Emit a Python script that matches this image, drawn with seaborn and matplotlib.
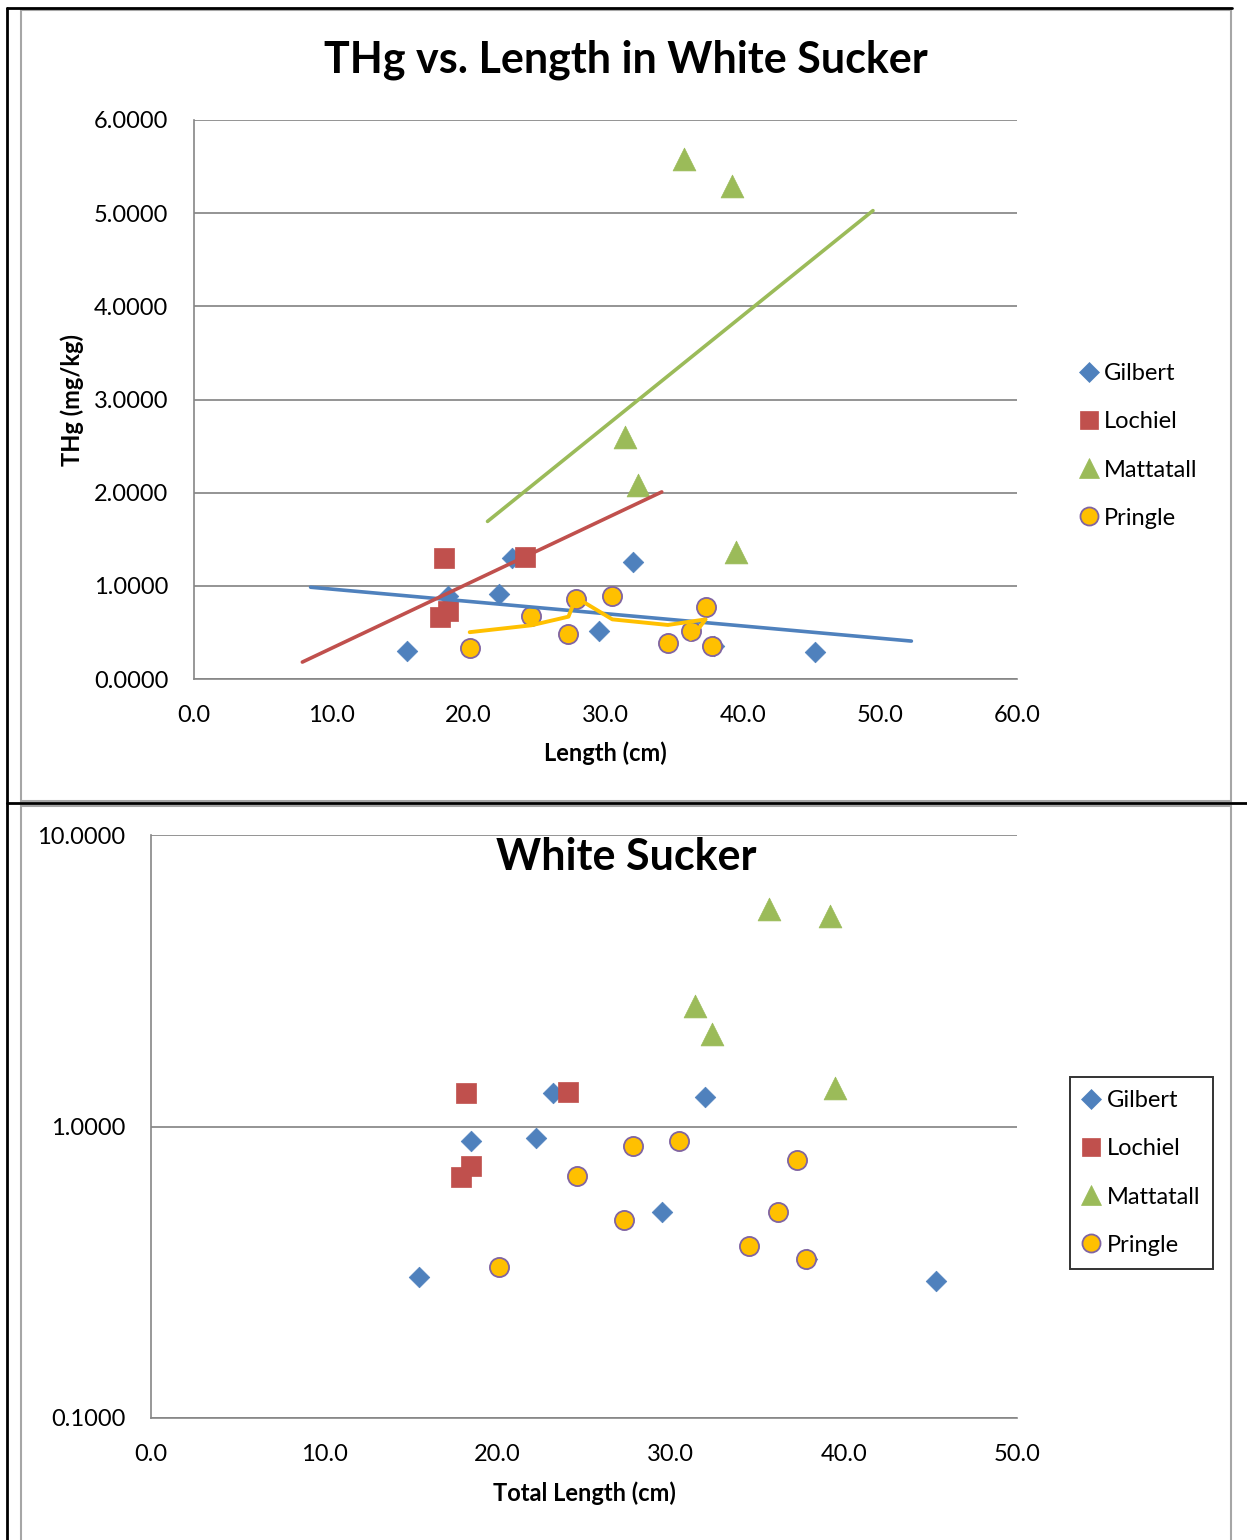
import numpy as np
import pandas as pd
import matplotlib
matplotlib.use('Agg')
import matplotlib.pyplot as plt
import seaborn as sns
from matplotlib.lines import Line2D
from matplotlib.patches import Rectangle
from matplotlib.ticker import FormatStrFormatter, NullLocator

# ---- data ------------------------------------------------------------------
gilbert_len   = [15.5, 18.5, 22.2, 23.2, 29.5, 32.0, 37.9, 45.3]
gilbert_thg   = [0.305, 0.89, 0.91, 1.30, 0.51, 1.26, 0.35, 0.295]
lochiel_len   = [18.2, 24.1, 17.9, 18.5]
lochiel_thg   = [1.30, 1.31, 0.67, 0.73]
mattatall_len = [35.7, 39.2, 31.4, 32.4, 39.5]
mattatall_thg = [5.58, 5.29, 2.60, 2.08, 1.36]
# kept in sheet order: the moving-average trendline follows this order
pringle_len   = [20.1, 24.6, 27.3, 27.85, 30.5, 34.55, 37.3, 36.2, 37.8]
pringle_thg   = [0.33, 0.675, 0.478, 0.86, 0.89, 0.39, 0.77, 0.51, 0.35]

sites = ["Gilbert", "Lochiel", "Mattatall", "Pringle"]
# linear trendline forecast (cm) forward/backward, as set in the sheet
trend_forecast = {"Gilbert": 7, "Lochiel": 10, "Mattatall": 10}

top_xticks = [0, 10, 20, 30, 40, 50, 60]
top_yticks = [0, 1, 2, 3, 4, 5, 6]
bot_xticks = [0, 10, 20, 30, 40, 50]
bot_yticks = [0.1, 1, 10]

# ---- styling ---------------------------------------------------------------
W, H = 1247, 1540
sns.set_style("white")
plt.rcParams['font.family'] = ['Lato', 'DejaVu Sans']
plt.rcParams['text.color'] = 'black'
plt.rcParams['axes.labelcolor'] = 'black'

style = {
    "Gilbert":   dict(marker="D", s=110, color="#4F81BD", edgecolor="#4F81BD", linewidth=0.5),
    "Lochiel":   dict(marker="s", s=215, color="#C0504D", edgecolor="#C0504D", linewidth=0.5),
    "Mattatall": dict(marker="^", s=270, color="#9BBB59", edgecolor="#9BBB59", linewidth=0.5),
    "Pringle":   dict(marker="o", s=190, color="#FFC000", edgecolor="#8064A2", linewidth=1.3),
}
leg_ms = {"Gilbert": 10, "Lochiel": 13, "Mattatall": 14, "Pringle": 13}
GRID = "#868686"
AXC = "#868686"

df = pd.concat([
    pd.DataFrame({"site": "Gilbert", "length": gilbert_len, "thg": gilbert_thg}),
    pd.DataFrame({"site": "Lochiel", "length": lochiel_len, "thg": lochiel_thg}),
    pd.DataFrame({"site": "Mattatall", "length": mattatall_len, "thg": mattatall_thg}),
    pd.DataFrame({"site": "Pringle", "length": pringle_len, "thg": pringle_thg}),
], ignore_index=True)


def rect(l, t, r, b):
    # pixel box -> figure fraction [left, bottom, width, height]
    return [l / W, 1 - b / H, (r - l) / W, (b - t) / H]


def style_axes(ax):
    for side in ['top', 'right']:
        ax.spines[side].set_visible(False)
    for side in ['left', 'bottom']:
        ax.spines[side].set_color(AXC)
        ax.spines[side].set_linewidth(1.2)
    ax.tick_params(axis='both', which='major', direction='out', length=6.5,
                   width=1.2, color=AXC, labelsize=17, labelcolor='black')
    ax.tick_params(axis='y', pad=12)
    ax.tick_params(axis='x', pad=12)
    ax.yaxis.grid(True, color=GRID, linewidth=1.25)
    ax.xaxis.grid(False)
    ax.set_axisbelow(True)


def draw_points(ax):
    for site in sites:
        sub = df[df.site == site]
        sns.scatterplot(data=sub, x="length", y="thg", ax=ax, zorder=3,
                        legend=False, **style[site])


def legend_handles():
    hs = []
    for site in sites:
        st = style[site]
        hs.append(Line2D([], [], linestyle='none', marker=st["marker"],
                         markersize=leg_ms[site], markerfacecolor=st["color"],
                         markeredgecolor=st["edgecolor"],
                         markeredgewidth=st["linewidth"], label=site))
    return hs


fig = plt.figure(figsize=(W / 100, H / 100), dpi=100)

# cell borders of the document table + chart area frames
for (x0, y0, x1, y1) in [(7, 8, 1232, 8), (7, 8, 7, H), (7, 803, W, 803)]:
    fig.add_artist(Line2D([x0 / W, x1 / W], [1 - y0 / H, 1 - y1 / H],
                          transform=fig.transFigure, color='black', lw=2))
for (l, t, r, b) in [(21, 10, 1231, 801), (21, 806, 1231, H + 5)]:
    fig.add_artist(Rectangle((l / W, 1 - b / H), (r - l) / W, (b - t) / H,
                             transform=fig.transFigure, fill=False,
                             edgecolor='#A6A6A6', lw=1.5))

# ---- top chart: linear scale with trendlines --------------------------------
ax1 = fig.add_axes(rect(194, 120, 1017, 679))
style_axes(ax1)
draw_points(ax1)

for site in ["Gilbert", "Lochiel", "Mattatall"]:
    sub = df[df.site == site]
    slope, icpt = np.polyfit(sub.length, sub.thg, 1)
    xs = np.array([sub.length.min() - trend_forecast[site],
                   sub.length.max() + trend_forecast[site]])
    sns.lineplot(x=xs, y=slope * xs + icpt, ax=ax1, color=style[site]["color"],
                 lw=2.6, zorder=4, legend=False)

# 2-period moving average for Pringle, in sheet order
pr = df[df.site == "Pringle"].reset_index(drop=True)
ma = pr.thg.rolling(2).mean().shift(-1)
sns.lineplot(x=pr.length[:-1], y=ma[:-1], ax=ax1, sort=False, estimator=None,
             color="#FFC000", lw=2.8, zorder=4, legend=False)

ax1.set_xlim(0, 60)
ax1.set_ylim(0, 6)
ax1.set_xticks(top_xticks)
ax1.set_yticks(top_yticks)
ax1.xaxis.set_major_formatter(FormatStrFormatter('%.1f'))
ax1.yaxis.set_major_formatter(FormatStrFormatter('%.4f'))
ax1.set_xlabel("Length (cm)", fontsize=17, fontweight='bold', va='center')
ax1.xaxis.set_label_coords(0.5, (679 - 753) / 559)
ax1.set_ylabel("THg (mg/kg)", fontsize=17, fontweight='bold', va='center')
ax1.yaxis.set_label_coords((72 - 194) / 823, 0.5)
fig.text(626 / W, 1 - 60 / H, "THg vs. Length in White Sucker", fontsize=31,
         fontweight='bold', ha='center', va='center')

leg1 = ax1.legend(handles=legend_handles(), loc='center left',
                  bbox_to_anchor=(1071 / W, 1 - 446 / H), bbox_transform=fig.transFigure,
                  frameon=False, fontsize=17, labelspacing=1.15, handlelength=0.7,
                  handletextpad=0.3, borderaxespad=0)

# ---- bottom chart: log scale --------------------------------------------------
ax2 = fig.add_axes(rect(151, 835, 1017, 1418))
style_axes(ax2)
ax2.set_yscale('log')
draw_points(ax2)
ax2.set_xlim(0, 50)
ax2.set_ylim(0.1, 10)
ax2.set_xticks(bot_xticks)
ax2.set_yticks(bot_yticks)
ax2.yaxis.set_minor_locator(NullLocator())
ax2.xaxis.set_major_formatter(FormatStrFormatter('%.1f'))
ax2.yaxis.set_major_formatter(FormatStrFormatter('%.4f'))
ax2.set_xlabel("Total Length (cm)", fontsize=17, fontweight='bold', va='center')
ax2.xaxis.set_label_coords(0.5, (1418 - 1493) / 583)
ax2.set_ylabel("")
fig.text(626 / W, 1 - 857 / H, "White Sucker", fontsize=31,
         fontweight='bold', ha='center', va='center', zorder=10)

leg2 = ax2.legend(handles=legend_handles(), loc='center left',
                  bbox_to_anchor=(1070 / W, 1 - 1173 / H), bbox_transform=fig.transFigure,
                  frameon=True, fancybox=False, fontsize=17, labelspacing=1.15,
                  handlelength=0.7, handletextpad=0.3, borderaxespad=0,
                  borderpad=0.55)
leg2.get_frame().set_edgecolor('black')
leg2.get_frame().set_linewidth(1.4)

fig.savefig("out.png", dpi=100)
